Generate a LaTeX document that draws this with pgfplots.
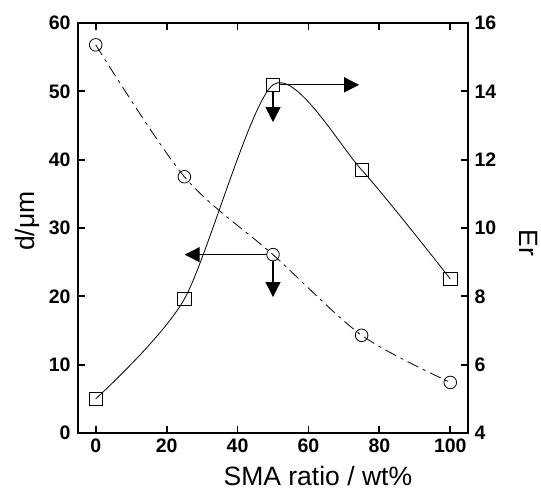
\documentclass[border=0pt]{standalone}
\usepackage{fontspec}
\setmainfont{Liberation Sans}
\usepackage{pgfplots}
\pgfplotsset{compat=1.18}
\usetikzlibrary{arrows.meta}

\begin{document}
\begin{tikzpicture}
\pgfplotsset{
  every axis/.append style={
    scale only axis, width=390bp, height=410bp,
    xmin=-5, xmax=105,
    axis line style={line width=1.8bp},
    every tick/.style={line width=1.8bp, black},
    tick align=inside, major tick length=7bp,
    tick label style={font=\fontsize{19.5bp}{19.5bp}\selectfont\bfseries},
    /pgf/number format/assume math mode=true,
    label style={font=\fontsize{26.5bp}{26.5bp}\selectfont, inner sep=0pt},
  },
  arr/.style={line width=1.2bp, black, -{Triangle[length=15bp, width=15bp]}},
}
\begin{axis}[
    name=ax,
    ymin=0, ymax=60,
    xtick={0,20,...,100}, ytick={0,10,...,60},
    xtick pos=both, ytick pos=left,
    xlabel={SMA ratio / wt\%},
    ylabel={d/μm},
    xlabel style={at={(axis description cs:0.615,-0.127)}, anchor=base},
    ylabel style={at={(axis description cs:-0.13,0.517)}, anchor=center, rotate=0},
    yticklabel style={xshift=-4bp},
    xticklabel style={yshift=-2bp},
]
\addplot[black, line width=0.8bp, smooth, tension=0.5,
  dash pattern=on 12bp off 5bp on 3bp off 5bp,
  mark=o, mark size=6.3bp, mark options={solid, fill=none}]
  coordinates {(0,56.8) (25,37.5) (50,26.1) (75,14.3) (100,7.4)};
\addplot[arr] coordinates {(48.2,26.1) (25.1,26.1)};
\addplot[arr] coordinates {(50,25.2) (50,19.9)};
\end{axis}
\begin{axis}[
    ymin=4, ymax=16,
    ytick={4,6,...,16},
    axis x line=none, axis y line*=right,
    ylabel={Er},
    ylabel style={at={(axis description cs:1.156,0.463)}, anchor=center, rotate=180},
    yticklabel style={xshift=3bp},
]
\addplot[black, line width=0.8bp, smooth, tension=0.45,
  mark=square, mark size=6.7bp, mark options={fill=none}]
  coordinates {(0,5.0) (25,7.92) (50,14.19) (75,11.70) (100,8.51)};
\addplot[arr] coordinates {(51.9,14.19) (74.3,14.19)};
\addplot[arr] coordinates {(50,14.0) (50,13.1)};
\end{axis}
\path[use as bounding box] ([shift={(-78bp,-58bp)}]ax.south west) rectangle ([shift={(73bp,23bp)}]ax.north east);
\end{tikzpicture}
\end{document}
